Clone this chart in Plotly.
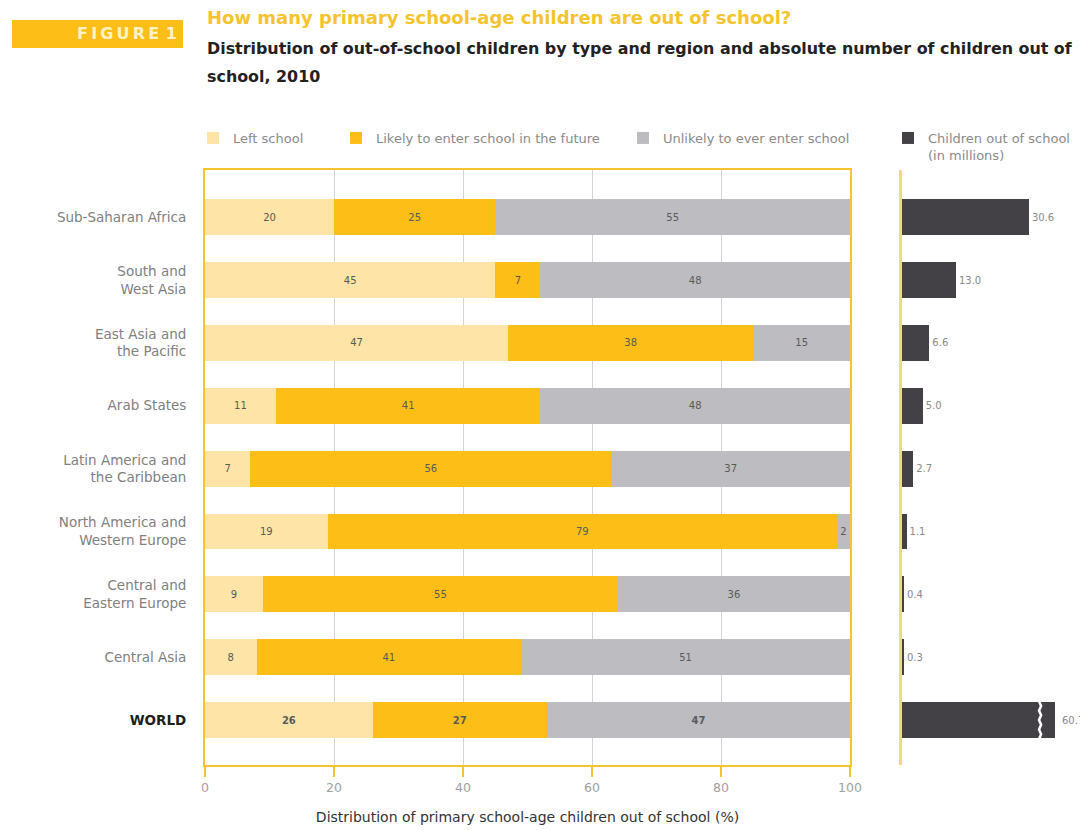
import plotly.graph_objects as go

# ---------------- data ----------------
regions = ["Sub-Saharan Africa", "South and<br>West Asia", "East Asia and<br>the Pacific",
           "Arab States", "Latin America and<br>the Caribbean", "North America and<br>Western Europe",
           "Central and<br>Eastern Europe", "Central Asia",
           "<b><span style='color:#1e1e1e'>WORLD</span></b>"]
left_school = [20, 45, 47, 11, 7, 19, 9, 8, 26]
likely_enter = [25, 7, 38, 41, 56, 79, 55, 41, 27]
unlikely_enter = [55, 48, 15, 48, 37, 2, 36, 51, 47]
out_of_school_millions = [30.6, 13.0, 6.6, 5.0, 2.7, 1.1, 0.4, 0.3, 60.7]
x_ticks = [0, 20, 40, 60, 80, 100]

series_names = ["Left school", "Likely to enter school in the future", "Unlikely to ever enter school"]
abs_name = "Children out of school<br>(in millions)"

# ---------------- style ----------------
FONT = "DejaVu Sans, Arial, sans-serif"
C_LIGHT = "#FEE4A6"
C_GOLD = "#FDBF17"
C_GRAY = "#BDBCC1"
C_DARK = "#434145"
C_FRAME = "#F3C430"
# page body has an 8px margin; figure sized to fit the window exactly
W, H = 1080, 822
OFF = 8


def PX(x):
    return (x - OFF) / W


def PY(y):
    return 1 - (y - OFF) / H


ypos = list(range(len(regions)))
n = len(regions)


def seg_text(vals):
    return [f"<b>{v}</b>" if i == n - 1 else str(v) for i, v in enumerate(vals)]


fig = go.Figure()
legends = ["legend", "legend2", "legend3"]
for vals, name, col, lg in zip([left_school, likely_enter, unlikely_enter], series_names,
                               [C_LIGHT, C_GOLD, C_GRAY], legends):
    fig.add_trace(go.Bar(
        y=ypos, x=vals, orientation="h", name=name, legend=lg,
        marker=dict(color=col, line=dict(width=0)), width=0.57,
        text=seg_text(vals), textposition="inside", insidetextanchor="middle",
        textangle=0, constraintext="none",
        textfont=dict(family=FONT, size=10, color="#5a5a5a"),
        xaxis="x", yaxis="y", hoverinfo="x+name",
    ))

abs_text = [f"{v:.1f}" for v in out_of_school_millions[:-1]] + [""]
fig.add_trace(go.Bar(
    y=ypos, x=out_of_school_millions, orientation="h", name=abs_name, legend="legend4",
    marker=dict(color=C_DARK, line=dict(width=0)), width=0.57,
    text=abs_text, textposition="outside", textangle=0, constraintext="none",
    textfont=dict(family=FONT, size=10, color="#8a8a8a"),
    xaxis="x2", yaxis="y2", cliponaxis=True,
))

X2_MAX = 36.9
BREAK_X = 33.3
# axis-break zigzag on the world bar
zz_y, zz_x = [], []
steps = 8
for k in range(steps + 1):
    zz_y.append(n - 1 - 0.3 + 0.6 * k / steps)
    zz_x.append(BREAK_X + (0.25 if k % 2 else -0.25))
fig.add_trace(go.Scatter(x=zz_x, y=zz_y, mode="lines", line=dict(color="white", width=2.5),
                         xaxis="x2", yaxis="y2", showlegend=False, hoverinfo="skip"))

YR = [n - 1 + 0.715, -0.75]
fig.update_layout(
    width=W, height=H, margin=dict(l=0, r=0, t=0, b=0, autoexpand=False),
    paper_bgcolor="white", plot_bgcolor="white",
    barmode="stack",
    font=dict(family=FONT, color="#777"),
    xaxis=dict(domain=[PX(205), PX(850)], range=[0, 100], tickvals=x_ticks,
               showgrid=True, gridcolor="#D3D3DA", gridwidth=1,
               showline=True, linecolor=C_FRAME, linewidth=2, mirror=True,
               ticks="outside", ticklen=10, tickcolor=C_FRAME, tickwidth=2,
               tickfont=dict(size=12.5, color="#a0a0a0"), zeroline=False,
               title=dict(text="Distribution of primary school-age children out of school (%)",
                          font=dict(size=14, color="#333"), standoff=18)),
    yaxis=dict(domain=[PY(765), PY(170)], range=YR, tickvals=ypos, ticktext=regions,
               showline=True, linecolor=C_FRAME, linewidth=2, mirror=True,
               ticks="", showgrid=False, zeroline=False, ticklabelstandoff=14,
               tickfont=dict(size=13.5, color="#808080")),
    xaxis2=dict(domain=[PX(902), PX(1055)], range=[0, X2_MAX], anchor="y2",
                showgrid=False, showticklabels=False, zeroline=False, showline=False),
    yaxis2=dict(domain=[PY(765), PY(170)], range=YR, anchor="x2",
                showticklabels=False, showgrid=False, zeroline=False,
                showline=True, linecolor="#F7D77A", linewidth=3),
    showlegend=True,
)

leg_common = dict(orientation="h", xanchor="left", bgcolor="rgba(0,0,0,0)",
                  font=dict(family=FONT, size=13, color="#8a8a8a"), itemwidth=30, borderwidth=0)
fig.update_layout(
    legend=dict(x=PX(193), y=PY(138), yanchor="middle", **leg_common),
    legend2=dict(x=PX(336), y=PY(138), yanchor="middle", **leg_common),
    legend3=dict(x=PX(623), y=PY(138), yanchor="middle", **leg_common),
    legend4=dict(x=PX(888), y=PY(123), yanchor="top", valign="top", **leg_common),
)

# world value label beyond break
fig.add_annotation(x=X2_MAX, y=n - 1, xref="x2", yref="y2", xanchor="left", xshift=5,
                   text=f"{out_of_school_millions[-1]:.1f}", showarrow=False,
                   font=dict(family=FONT, size=10, color="#8a8a8a"))

# header
fig.add_shape(type="rect", xref="paper", yref="paper", x0=PX(12), x1=PX(183),
              y0=PY(48), y1=PY(20), fillcolor=C_GOLD, line=dict(width=0), layer="below")
fig.add_annotation(x=PX(179), y=PY(34), xref="paper", yref="paper", xanchor="right",
                   yanchor="middle", text="<b>" + "\u2009".join("FIGURE") + "\u2009\u20091</b>",
                   showarrow=False, font=dict(family=FONT, size=16, color="#FFF3C6"))
fig.add_annotation(x=PX(205), y=PY(18), xref="paper", yref="paper", xanchor="left",
                   yanchor="middle",
                   text="<b>How many primary school-age children are out of school?</b>",
                   showarrow=False, font=dict(family=FONT, size=18, color="#F5C42C"))
fig.add_annotation(x=PX(205), y=PY(48), xref="paper", yref="paper", xanchor="left",
                   yanchor="middle",
                   text="<b>Distribution of out-of-school children by type and region and absolute number of children out of</b>",
                   showarrow=False, font=dict(family=FONT, size=15.9, color="#222"))
fig.add_annotation(x=PX(205), y=PY(77), xref="paper", yref="paper", xanchor="left",
                   yanchor="middle", text="<b>school, 2010</b>",
                   showarrow=False, font=dict(family=FONT, size=15.9, color="#222"))

fig.write_html("out.html")
